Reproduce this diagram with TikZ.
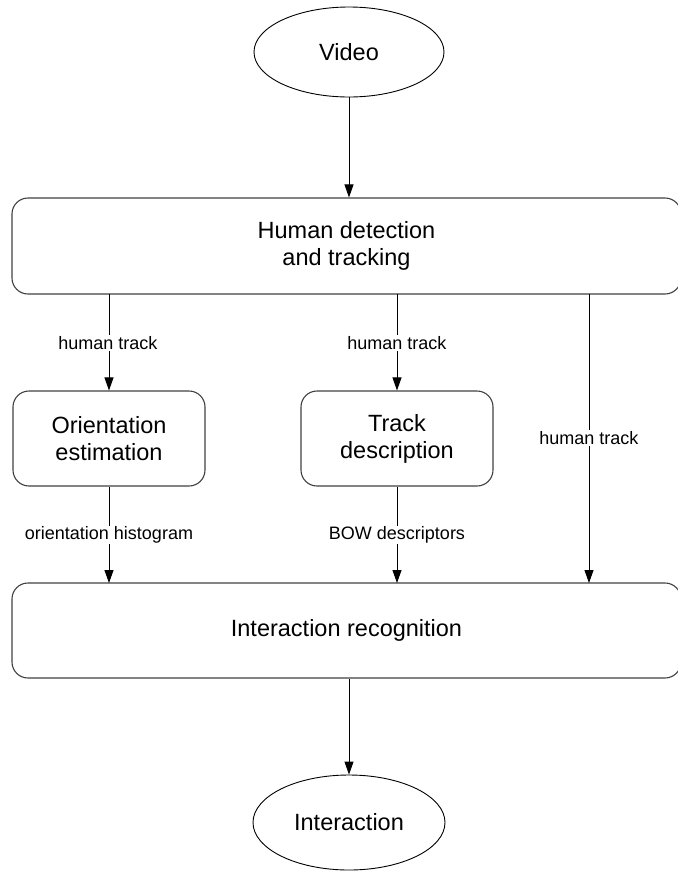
\documentclass[tikz,border=0pt]{standalone}
\usepackage{fontspec}
\setmainfont{Liberation Sans}
\usetikzlibrary{shapes.geometric,arrows.meta}
\begin{document}
\begin{tikzpicture}[x=1pt,y=-1pt,
  box/.style={draw=black!75,line width=1.1pt,rounded corners=16pt,align=center,
    font=\fontsize{23.5}{27}\selectfont,inner sep=0pt},
  oval/.style={draw=black,line width=0.9pt,ellipse,inner sep=0pt,font=\fontsize{23.5}{27}\selectfont},
  lab/.style={font=\fontsize{18}{21}\selectfont,fill=white,inner sep=1pt},
  arr/.style={draw=black,line width=0.9pt,-{Triangle[length=13pt,width=9pt]}}]
\useasboundingbox (0,0) rectangle (678,871);
\node[oval,minimum width=190pt,minimum height=90pt] (video) at (349,52) {Video};
\node[box,minimum width=669pt,minimum height=96pt] (hd) at (346.5,246) {\raisebox{-2pt}{\parbox{300pt}{\centering Human detection\\and tracking}}};
\node[box,minimum width=192pt,minimum height=95pt] (oe) at (109,438.5) {Orientation\\estimation};
\node[box,minimum width=192pt,minimum height=95pt] (td) at (397,438.5) {Track\\description};
\node[box,minimum width=669pt,minimum height=95pt] (ir) at (346.5,630.5) {\raisebox{-2pt}{Interaction recognition}};
\node[oval,minimum width=192pt,minimum height=95pt] (int) at (349,822.5) {Interaction};
\coordinate (hd1) at (109,294);
\coordinate (hd2) at (397,294);
\coordinate (hd3) at (589,294);
\coordinate (ir1) at (109,583);
\coordinate (ir2) at (397,583);
\coordinate (ir3) at (589,583);
\draw[arr] (video.south) -- (video.south |- hd.north);
\draw[arr] (hd1) -- (oe);
\draw[arr] (hd2) -- (td);
\draw[arr] (hd3) -- (ir3);
\draw[arr] (oe) -- (ir1);
\draw[arr] (td) -- (ir2);
\draw[arr] (int.north |- ir.south) -- (int.north);
\node[lab] (l1) at (108,343) {human track};
\node[lab] (l2) at (397,343) {human track};
\node[lab] (l3) at (589,438) {human track};
\node[lab] (l4) at (109,535) {orientation histogram};
\node[lab] (l5) at (397,535) {BOW descriptors};
\end{tikzpicture}
\end{document}
